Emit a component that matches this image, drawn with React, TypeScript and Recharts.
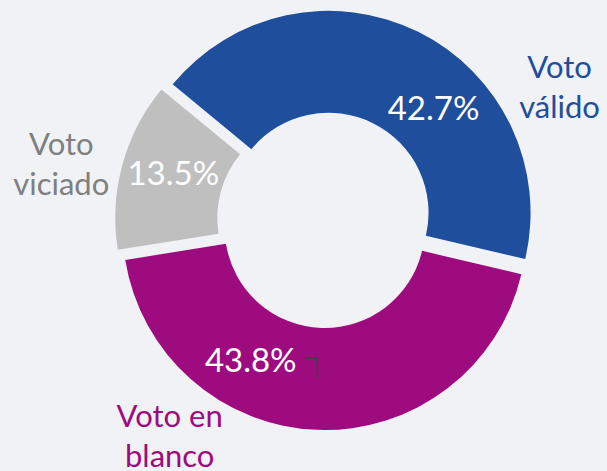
import React from "react";
import { PieChart, Pie, Cell } from "recharts";

// values
const names = ["Voto válido", "Voto en blanco", "Voto viciado"];
const nameLines = [["Voto", "válido"], ["Voto en", "blanco"], ["Voto", "viciado"]];
const shares = [42.7, 43.8, 13.5];
const colors = ["#1f4e9c", "#9e0b7e", "#bfbfbf"];
const nameColors = ["#1f4e9c", "#9e0b7e", "#7f7f7f"];

const W = 607;
const H = 471;
const CX = 325;
const CY = 220;
const INNER = 100;
const OUTER = 202;
const EXPLODE = 8;
const START = 140.5;
const BG = "#f0f2f6";
const FONT = "Lato, 'Open Sans', sans-serif";

// label offsets (from each exploded slice centre), text baseline
const pctPos = [
  { dx: 105, dy: -93 },
  { dx: -74, dy: 144 },
  { dx: -144, dy: -33 },
];
const namePos = [
  { dx: 231, dy: -135 },
  { dx: -155, dy: 199 },
  { dx: -256, dy: -63 },
];

const data = names.map((name, i) => ({ name, value: shares[i] }));
const total = shares.reduce((a, b) => a + b, 0);

function sliceCenter(i: number) {
  const before = shares.slice(0, i).reduce((a, b) => a + b, 0);
  const mid = START - (360 * (before + shares[i] / 2)) / total;
  const rad = (mid * Math.PI) / 180;
  return { x: CX + EXPLODE * Math.cos(rad), y: CY - EXPLODE * Math.sin(rad) };
}

function makeLabel(slice: number) {
  return (props: any) => {
    const { index, cx, cy } = props;
    if (index !== slice) return null;
    const p = pctPos[slice];
    const n = namePos[slice];
    return (
      <g>
        <text
          x={cx + p.dx}
          y={cy + p.dy}
          textAnchor="middle"
          fill="#ffffff"
          fontSize={33}
          fontFamily={FONT}
        >
          {shares[slice].toFixed(1)}%
        </text>
        {nameLines[slice].map((line, k) => (
          <text
            key={k}
            x={cx + n.dx}
            y={cy + n.dy + k * 40}
            textAnchor="middle"
            fill={nameColors[slice]}
            fontSize={31}
            fontFamily={FONT}
          >
            {line}
          </text>
        ))}
        {slice === 1 && (
          <path
            d={`M${cx - 20},${cy + 130} H${cx - 8} L${cx - 7},${cy + 150}`}
            stroke="#404040"
            strokeWidth={1.5}
            fill="none"
          />
        )}
      </g>
    );
  };
}

export default function App() {
  return (
    <div style={{ position: "fixed", left: 0, top: 0, width: W, height: H, background: BG }}>
      <PieChart width={W} height={H} margin={{ top: 0, right: 0, bottom: 0, left: 0 }}>
        {data.map((_, s) => {
          const c = sliceCenter(s);
          return (
            <Pie
              key={s}
              data={data}
              dataKey="value"
              nameKey="name"
              cx={c.x}
              cy={c.y}
              innerRadius={INNER}
              outerRadius={OUTER}
              startAngle={START}
              endAngle={START - 360}
              stroke="none"
              labelLine={false}
              label={makeLabel(s)}
              isAnimationActive={false}
            >
              {data.map((d, i) => (
                <Cell key={d.name} fill={i === s ? colors[i] : "transparent"} stroke="none" />
              ))}
            </Pie>
          );
        })}
      </PieChart>
    </div>
  );
}
